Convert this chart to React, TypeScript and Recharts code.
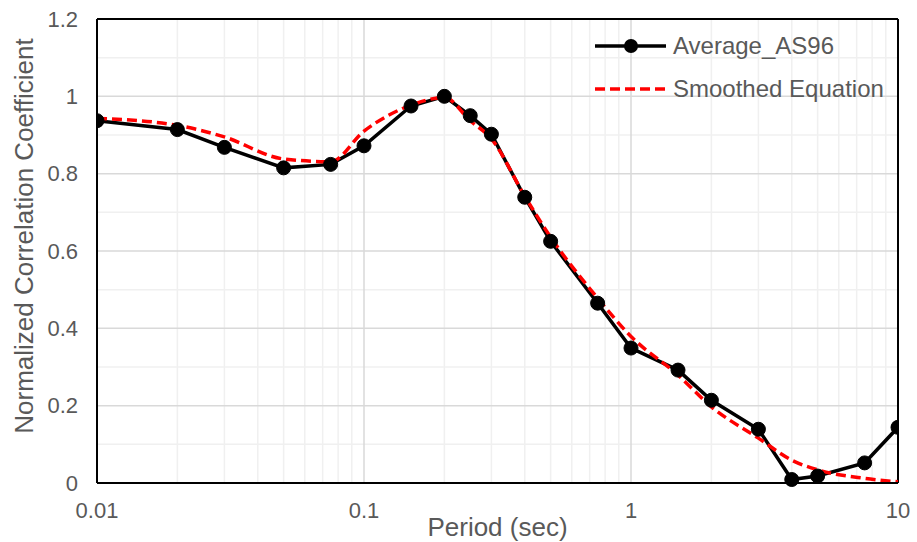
import {
  Label,
  Line,
  LineChart,
  ReferenceLine,
  XAxis,
  YAxis,
} from "recharts";

const periods = [0.01, 0.02, 0.03, 0.05, 0.075, 0.1, 0.15, 0.2, 0.25, 0.3, 0.4, 0.5, 0.75, 1, 1.5, 2, 3, 4, 5, 7.5, 10];
const averageAS96 = [0.937, 0.914, 0.868, 0.815, 0.824, 0.872, 0.975, 1.0, 0.95, 0.902, 0.739, 0.625, 0.465, 0.349, 0.292, 0.214, 0.139, 0.009, 0.018, 0.052, 0.144];
const smoothed = [0.943, 0.925, 0.895, 0.838, 0.831, 0.91, 0.977, 0.997, 0.937, 0.89, 0.742, 0.636, 0.478, 0.379, 0.279, 0.197, 0.116, 0.059, 0.034, 0.012, 0.003];

const xTicks = [0.01, 0.1, 1, 10];
const xMinor = [0.02, 0.03, 0.04, 0.05, 0.06, 0.07, 0.08, 0.09, 0.2, 0.3, 0.4, 0.5, 0.6, 0.7, 0.8, 0.9, 2, 3, 4, 5, 6, 7, 8, 9];
const yTicks = [0, 0.2, 0.4, 0.6, 0.8, 1, 1.2];
const yMinor = [0.1, 0.3, 0.5, 0.7, 0.9, 1.1];

const data = periods.map((p, i) => ({ period: p, avg: averageAS96[i], smooth: smoothed[i] }));

const FONT = '"Liberation Sans", Arial, sans-serif';
const TEXT = "#595959";

function LegendBox() {
  return (
    <div
      style={{
        position: "absolute",
        left: 595,
        top: 24,
        fontFamily: FONT,
        fontSize: 24,
        color: TEXT,
        lineHeight: "43px",
      }}
    >
      <div style={{ display: "flex", alignItems: "center" }}>
        <svg width={78} height={20}>
          <line x1={0} y1={10} x2={71} y2={10} stroke="#000" strokeWidth={3.5} />
          <circle cx={36} cy={10} r={7} fill="#000" />
        </svg>
        <span>Average_AS96</span>
      </div>
      <div style={{ display: "flex", alignItems: "center" }}>
        <svg width={78} height={20}>
          <line x1={0} y1={10} x2={71} y2={10} stroke="#ff0000" strokeWidth={3.5} strokeDasharray="10 5" />
        </svg>
        <span>Smoothed Equation</span>
      </div>
    </div>
  );
}

export default function App() {
  return (
    <div style={{ position: "absolute", left: 0, top: 0, width: 917, height: 542, background: "#fff" }}>
      <LineChart width={917} height={542} data={data} margin={{ top: 19, right: 19, left: 0, bottom: 0 }}>
        {xMinor.map((v) => (
          <ReferenceLine key={"xm" + v} x={v} stroke="#f0f0f0" strokeWidth={1.5} />
        ))}
        {yMinor.map((v) => (
          <ReferenceLine key={"ym" + v} y={v} stroke="#f0f0f0" strokeWidth={1.5} />
        ))}
        {xTicks.map((v) => (
          <ReferenceLine key={"xM" + v} x={v} stroke="#d9d9d9" strokeWidth={1.5} />
        ))}
        {yTicks.map((v) => (
          <ReferenceLine key={"yM" + v} y={v} stroke="#d9d9d9" strokeWidth={1.5} />
        ))}
        {/* plot area frame on top and right */}
        <ReferenceLine y={1.2} stroke="#000" strokeWidth={2} ifOverflow="visible" />
        <ReferenceLine x={10} stroke="#000" strokeWidth={2} ifOverflow="visible" />
        <XAxis
          dataKey="period"
          type="number"
          scale="log"
          domain={[0.01, 10]}
          ticks={xTicks}
          allowDataOverflow
          height={59}
          tickSize={0}
          tickMargin={19}
          axisLine={{ stroke: "#000", strokeWidth: 2 }}
          tick={{ fill: TEXT, fontSize: 22, fontFamily: FONT }}
          tickFormatter={(v: number) => String(v)}
        >
          <Label
            value="Period (sec)"
            position="insideBottom"
            offset={6}
            style={{ fill: TEXT, fontSize: 26, fontFamily: FONT }}
          />
        </XAxis>
        <YAxis
          type="number"
          domain={[0, 1.2]}
          ticks={yTicks}
          width={97}
          tickSize={0}
          tickMargin={19}
          axisLine={{ stroke: "#000", strokeWidth: 2 }}
          tick={{ fill: TEXT, fontSize: 22, fontFamily: FONT }}
        >
          <Label
            content={() => (
              <text
                x={33}
                y={236}
                transform="rotate(-90, 33, 236)"
                textAnchor="middle"
                fill={TEXT}
                fontSize={26}
                fontFamily={FONT}
              >
                Normalized Correlation Coefficient
              </text>
            )}
          />
        </YAxis>
        <Line
          dataKey="avg"
          stroke="#000"
          strokeWidth={3.5}
          dot={{ r: 7, fill: "#000", stroke: "#000", strokeWidth: 1 }}
          isAnimationActive={false}
        />
        <Line
          dataKey="smooth"
          type="monotone"
          stroke="#ff0000"
          strokeWidth={3.5}
          strokeDasharray="10 5"
          dot={false}
          isAnimationActive={false}
        />
      </LineChart>
      <LegendBox />
    </div>
  );
}
